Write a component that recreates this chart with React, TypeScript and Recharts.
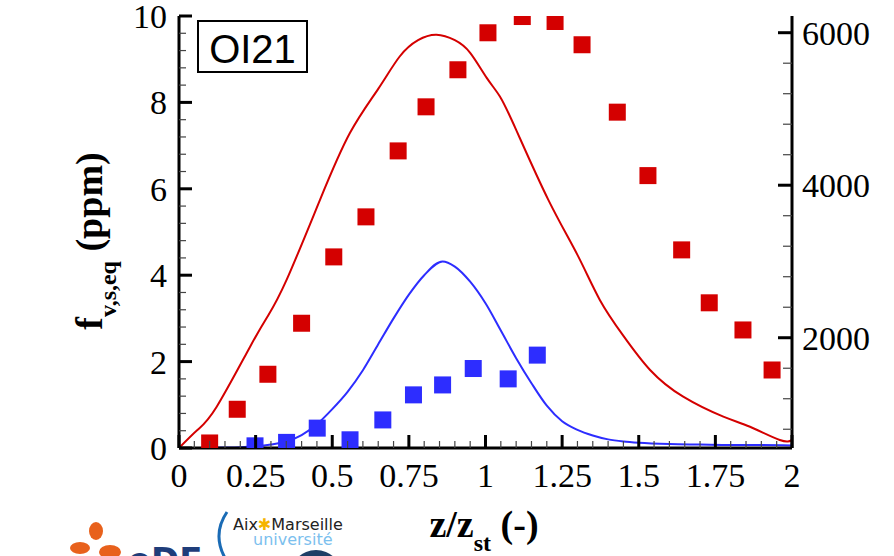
import { ComposedChart, Line, Scatter, XAxis, YAxis } from "recharts";

// measured: red squares / red line on the right axis, blue on the left (ppm)
const redExpZ = [0.1, 0.19, 0.29, 0.4, 0.505, 0.61, 0.715, 0.806, 0.91, 1.008, 1.12, 1.227, 1.315, 1.43, 1.53, 1.64, 1.73, 1.84, 1.935];
const redExpV = [620, 1062, 1521, 2190, 3060, 3585, 4450, 5028, 5514, 5999, 6212, 6147, 5842, 4958, 4126, 3152, 2458, 2102, 1577];

const blueExpZ = [0.248, 0.351, 0.451, 0.558, 0.665, 0.765, 0.86, 0.96, 1.074, 1.169];
const blueExpV = [0.05, 0.13, 0.46, 0.19, 0.65, 1.23, 1.46, 1.84, 1.6, 2.15];

const redSimZ = [0, 0.06, 0.123, 0.232, 0.29, 0.351, 0.46, 0.558, 0.65, 0.72, 0.78, 0.84, 0.9, 0.95, 1.004, 1.047, 1.1, 1.205, 1.3, 1.373, 1.45, 1.537, 1.645, 1.776, 1.863, 1.96, 2.0];
const redSimV = [554, 790, 1096, 1883, 2286, 2758, 3808, 4687, 5264, 5688, 5902, 5973, 5902, 5736, 5408, 5163, 4726, 3808, 3086, 2496, 2024, 1577, 1227, 965, 833, 659, 659];

const blueSimZ = [0.1, 0.2, 0.25, 0.3, 0.35, 0.4, 0.45, 0.5, 0.55, 0.6, 0.65, 0.7, 0.75, 0.8, 0.86, 0.9, 0.95, 1.0, 1.05, 1.1, 1.15, 1.2, 1.25, 1.3, 1.35, 1.4, 1.45, 1.5, 1.6, 1.7, 1.8, 1.9, 2.0];
const blueSimV = [0.01, 0.02, 0.04, 0.08, 0.15, 0.3, 0.55, 0.9, 1.3, 1.8, 2.4, 3.0, 3.55, 4.0, 4.32, 4.2, 3.85, 3.35, 2.72, 2.08, 1.5, 0.98, 0.62, 0.42, 0.29, 0.2, 0.15, 0.12, 0.09, 0.08, 0.07, 0.07, 0.06];

const xMajor = [0, 0.25, 0.5, 0.75, 1, 1.25, 1.5, 1.75, 2];
const leftMajor = [0, 2, 4, 6, 8, 10];
const rightMajor = [2000, 4000, 6000];

const zip = (zs: number[], vs: number[]) => zs.map((z, i) => ({ z, v: vs[i] }));
const steps = (from: number, to: number, step: number) => {
  const out: number[] = [];
  for (let v = from; v <= to + 1e-9; v += step) out.push(Math.round(v * 1e6) / 1e6);
  return out;
};
const isMajor = (v: number, majors: number[]) => majors.some((m) => Math.abs(m - v) < 1e-6);

const redExp = zip(redExpZ, redExpV);
const blueExp = zip(blueExpZ, blueExpV);
const redSim = zip(redSimZ, redSimV);
const blueSim = zip(blueSimZ, blueSimV);

const RED = "#d40000";
const BLUE = "#2d2dff";
const SERIF = "'Liberation Serif', 'Times New Roman', serif";
const TICK_FONT = 34;

function LeftTick(props: any) {
  const { x, y, payload } = props;
  const axisX = x + 12;
  const major = isMajor(payload.value, leftMajor);
  return (
    <g>
      <line x1={axisX} x2={axisX + (major ? 13 : 7)} y1={y} y2={y} stroke={major ? "#000" : "#444"} strokeWidth={major ? 3 : 1.2} />
      {major && (
        <text x={x} y={y} dy="0.35em" textAnchor="end" fontFamily={SERIF} fontSize={TICK_FONT} fill="#000">
          {payload.value}
        </text>
      )}
    </g>
  );
}

function RightTick(props: any) {
  const { x, y, payload } = props;
  const axisX = x - 10;
  const major = isMajor(payload.value, rightMajor);
  return (
    <g>
      <line x1={axisX - (major ? 14 : 9)} x2={axisX} y1={y} y2={y} stroke={major ? "#000" : "#444"} strokeWidth={major ? 3 : 1.2} />
      {major && (
        <text x={x} y={y} dy="0.35em" textAnchor="start" fontFamily={SERIF} fontSize={TICK_FONT} fill="#000">
          {payload.value}
        </text>
      )}
    </g>
  );
}

function BottomTick(props: any) {
  const { x, y, payload } = props;
  const axisY = y - 15;
  const major = isMajor(payload.value, xMajor);
  return (
    <g>
      <line x1={x} x2={x} y1={axisY - (major ? 13 : 7)} y2={axisY} stroke={major ? "#000" : "#444"} strokeWidth={major ? 3 : 1.2} />
      {major && (
        <text x={x} y={y} dy="0.71em" textAnchor="middle" fontFamily={SERIF} fontSize={TICK_FONT} fill="#000">
          {String(payload.value)}
        </text>
      )}
    </g>
  );
}

const square = (color: string) => (p: any) => (
  <rect x={p.cx - 8.5} y={p.cy - 8.5} width={17} height={17} fill={color} />
);

export default function App() {
  return (
    <div style={{ position: "absolute", left: 0, top: 0, width: 894, height: 556, background: "#fff", overflow: "hidden" }}>
      <ComposedChart width={894} height={556} margin={{ top: 16, right: 22, bottom: 58, left: 109 }}>
        <XAxis
          type="number"
          dataKey="z"
          domain={[0, 2]}
          ticks={steps(0, 2, 0.05)}
          interval={0}
          height={50}
          tickSize={0}
          tickMargin={15}
          tickLine={false}
          tick={<BottomTick />}
          axisLine={{ stroke: "#000", strokeWidth: 3 }}
          allowDataOverflow
        />
        <YAxis
          yAxisId="left"
          dataKey="v"
          type="number"
          domain={[0, 10]}
          ticks={steps(0, 10, 0.4)}
          interval={0}
          width={70}
          tickSize={0}
          tickMargin={12}
          tickLine={false}
          tick={<LeftTick />}
          axisLine={{ stroke: "#000", strokeWidth: 3 }}
          allowDataOverflow
        />
        <YAxis
          yAxisId="right"
          orientation="right"
          dataKey="v"
          type="number"
          domain={[554, 6219]}
          ticks={steps(800, 6000, 400)}
          interval={0}
          width={80}
          tickSize={0}
          tickMargin={10}
          tickLine={false}
          tick={<RightTick />}
          axisLine={{ stroke: "#000", strokeWidth: 3 }}
          allowDataOverflow
        />
        <Line yAxisId="right" data={redSim} dataKey="v" type="natural" stroke={RED} strokeWidth={2} dot={false} isAnimationActive={false} />
        <Line yAxisId="left" data={blueSim} dataKey="v" type="monotone" stroke={BLUE} strokeWidth={2} dot={false} isAnimationActive={false} />
        <Scatter yAxisId="right" data={redExp} dataKey="v" shape={square(RED)} isAnimationActive={false} />
        <Scatter yAxisId="left" data={blueExp} dataKey="v" shape={square(BLUE)} isAnimationActive={false} />
      </ComposedChart>

      <svg width={894} height={556} style={{ position: "absolute", left: 0, top: 0, pointerEvents: "none" }}>
        {/* case label */}
        <rect x={198} y={21} width={109} height={51} fill="#fff" stroke="#000" strokeWidth={2} />
        <text x={252.5} y={63} textAnchor="middle" fontFamily="'Liberation Sans', Arial, sans-serif" fontSize={40} fill="#000">
          OI21
        </text>

        {/* axis titles */}
        <text x={102} y={241} transform="rotate(-90 102 241)" textAnchor="middle" fontFamily={SERIF} fontWeight="bold" fontSize={38} fill="#000">
          f<tspan fontSize={24} dy={14}>v,s,eq</tspan>
          <tspan dy={-14}> (ppm)</tspan>
        </text>
        <text x={484} y={537} textAnchor="middle" fontFamily={SERIF} fontWeight="bold" fontSize={38} fill="#000">
          z/z<tspan fontSize={24} dy={14}>st</tspan>
          <tspan dy={-14}> (-)</tspan>
        </text>

        {/* logos, cut at the bottom edge */}
        <g fill="#e8611c">
          <ellipse cx={96} cy={531} rx={7} ry={9} />
          <ellipse cx={80} cy={548} rx={10} ry={6} />
          <ellipse cx={110} cy={552} rx={11} ry={7} />
        </g>
        <text x={128} y={572} fontFamily="'DejaVu Sans', sans-serif" fontWeight="bold" fontSize={34} fill="#1f3d7a">
          eDF
        </text>
        <path d="M 227 512 Q 212 534 225 558" fill="none" stroke="#1a6bb5" strokeWidth={3} />
        <text x={233} y={530} fontFamily="'DejaVu Sans', sans-serif" fontSize={16} fill="#222">
          Aix<tspan fill="#f5b400">✱</tspan>Marseille
        </text>
        <text x={253} y={545} fontFamily="'DejaVu Sans', sans-serif" fontSize={16} fill="#7cc0ee">
          université
        </text>
        <circle cx={316} cy={576} r={26} fill="#1f3f66" />
      </svg>
    </div>
  );
}
